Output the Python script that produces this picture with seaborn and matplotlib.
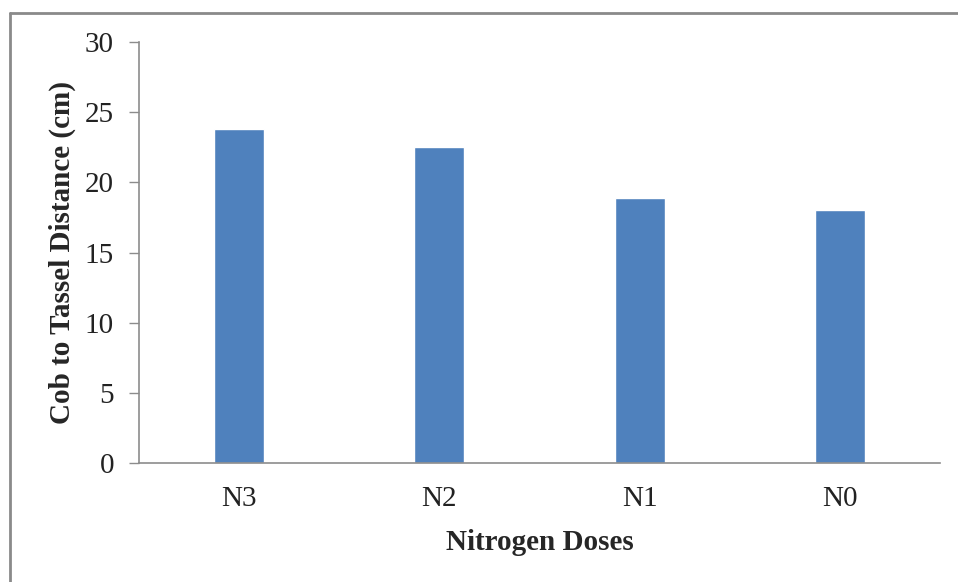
import matplotlib
matplotlib.use("Agg")
import matplotlib.pyplot as plt
import seaborn as sns
import pandas as pd
from matplotlib.lines import Line2D

doses = ["N3", "N2", "N1", "N0"]
distance_cm = [23.8, 22.5, 18.9, 18.0]
y_ticks = [0, 5, 10, 15, 20, 25, 30]

df = pd.DataFrame({"dose": doses, "distance": distance_cm})

sns.set_style("white")
plt.rcParams["font.family"] = ["Liberation Serif", "DejaVu Serif"]

fig = plt.figure(figsize=(9.58, 5.82), dpi=100)
ax = fig.add_axes([0.1451, 0.2045, 0.8361, 0.7233])

sns.barplot(data=df, x="dose", y="distance", color="#4F81BD", width=0.25,
            saturation=1, ax=ax)

ax.set_xlim(-0.5, 3.5)
ax.set_ylim(0, 30)
ax.set_yticks(y_ticks)
ax.set_yticklabels([str(t) for t in y_ticks])

for side in ("top", "right"):
    ax.spines[side].set_visible(False)
for side in ("left", "bottom"):
    ax.spines[side].set_color("#8c8c8c")
    ax.spines[side].set_linewidth(1.2)

ax.tick_params(axis="y", which="both", left=True, length=7, width=1.0,
               color="#8c8c8c", labelsize=21, labelcolor="#222222", pad=11)
ax.tick_params(axis="x", bottom=False, labelsize=21, labelcolor="#222222", pad=13)

ax.set_xlabel("Nitrogen Doses", fontsize=21, fontweight="bold")
ax.set_ylabel("Cob to Tassel Distance (cm)", fontsize=21, fontweight="bold")
ax.xaxis.set_label_coords(0.5, -0.158)
ax.yaxis.set_label_coords(-0.079, 0.5)

# outer frame (top and left edges)
fig.add_artist(Line2D([9.5 / 958, 1.0], [1 - 12.5 / 582, 1 - 12.5 / 582],
                      transform=fig.transFigure, color="#8a8a8a", lw=2.0))
fig.add_artist(Line2D([9.5 / 958, 9.5 / 958], [0.0, 1 - 12.5 / 582],
                      transform=fig.transFigure, color="#8a8a8a", lw=2.0))

fig.savefig("out.png", dpi=100, facecolor="white")
